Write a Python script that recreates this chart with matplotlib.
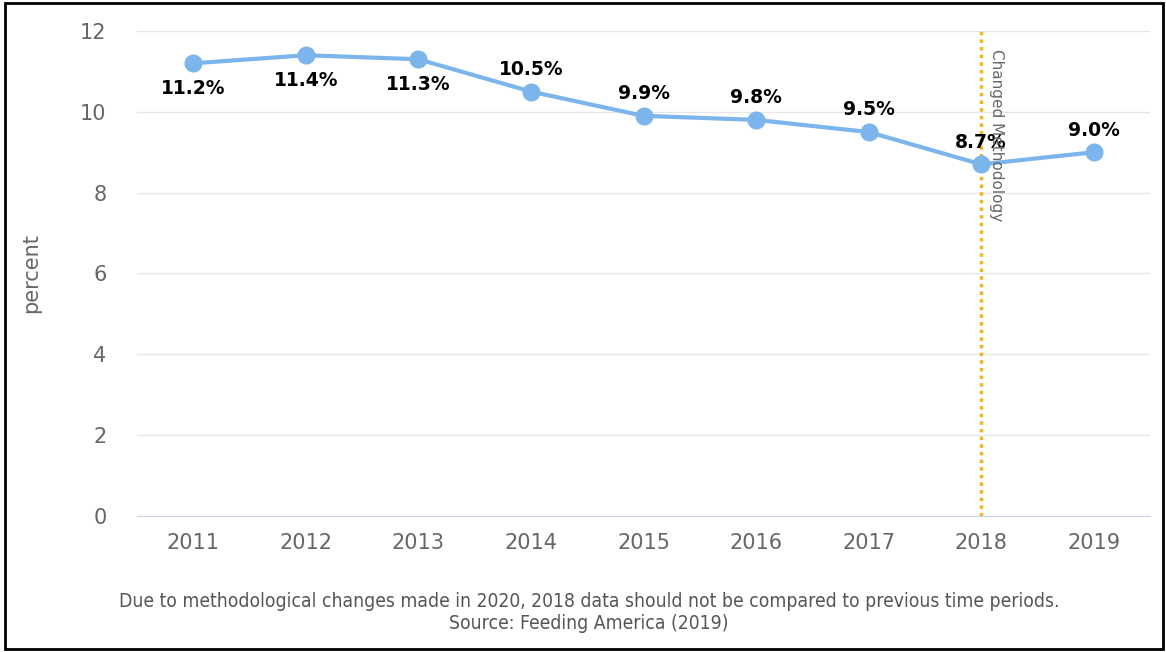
import matplotlib
matplotlib.use("Agg")
import matplotlib.pyplot as plt
from matplotlib.patches import Rectangle

# food insecurity rate by year
years = ["2011", "2012", "2013", "2014", "2015", "2016", "2017", "2018", "2019"]
values = [11.2, 11.4, 11.3, 10.5, 9.9, 9.8, 9.5, 8.7, 9.0]
labels = ["11.2%", "11.4%", "11.3%", "10.5%", "9.9%", "9.8%", "9.5%", "8.7%", "9.0%"]
label_below = [True, True, True, False, False, False, False, False, False]
yticks = [0, 2, 4, 6, 8, 10, 12]

fig = plt.figure(figsize=(11.66, 6.52), dpi=100)
ax = fig.add_axes([0.1175, 0.2086, 0.8688, 0.7439])

x = list(range(len(years)))
ax.plot(x, values, color="#7cb5ec", linewidth=3, marker="o", markersize=12, zorder=3)

for xi, v, lab, below in zip(x, values, labels, label_below):
    off = -18 if below else 16
    ax.annotate(lab, (xi, v), xytext=(0, off), textcoords="offset points",
                ha="center", va="center", fontsize=13.5, fontweight="bold", color="#000000")

# methodology change marker
i2018 = years.index("2018")
ax.axvline(i2018, color="#f0b323", linewidth=2.5, linestyle=(0, (1, 1.2)), zorder=2)
ax.text(i2018 + 0.065, 11.55, "Changed Methodology", rotation=270, ha="left", va="top",
        fontsize=11, color="#666666")

ax.set_xlim(-0.5, len(years) - 0.5)
ax.set_ylim(0, 12)
ax.set_xticks(x)
ax.set_xticklabels(years)
ax.set_yticks(yticks)
ax.grid(axis="y", color="#e6e6e6", linewidth=1)
ax.set_axisbelow(True)
for s in ["top", "right", "left"]:
    ax.spines[s].set_visible(False)
ax.spines["bottom"].set_color("#ccd6eb")
ax.tick_params(axis="both", length=0, labelsize=15, labelcolor="#666666")
ax.tick_params(axis="x", pad=12)
ax.tick_params(axis="y", pad=22)
ax.set_ylabel("percent", fontsize=15, color="#666666", labelpad=28)

fig.text(0.505, 0.077, "Due to methodological changes made in 2020, 2018 data should not be compared to previous time periods.",
         ha="center", va="center", fontsize=13.9, color="#555555", fontstretch="condensed")
fig.text(0.505, 0.043, "Source: Feeding America (2019)",
         ha="center", va="center", fontsize=13.9, color="#555555", fontstretch="condensed")

# frame around the whole picture
fig.patches.append(Rectangle((0.004, 0.005), 0.993, 0.99, transform=fig.transFigure,
                             fill=False, edgecolor="black", linewidth=2))

fig.savefig("out.png", dpi=100)
